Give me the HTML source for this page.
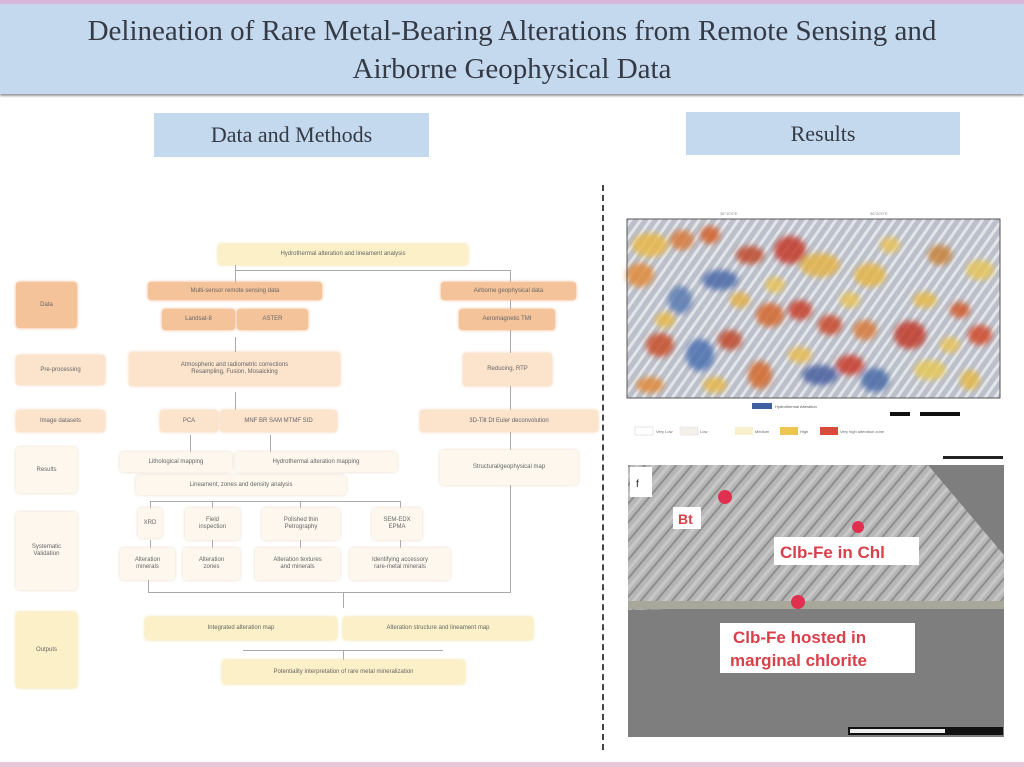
<!DOCTYPE html>
<html><head><meta charset="utf-8"><style>
body{margin:0;width:1024px;height:767px;background:#fff;position:relative;overflow:hidden;font-family:"Liberation Sans",sans-serif}
.a{position:absolute;box-sizing:border-box}
.hd{background:#c5d9ee;font-family:"Liberation Serif",serif;color:#343a46;text-align:center}
.b{position:absolute;box-sizing:border-box;font-size:6px;color:#666;display:flex;align-items:center;justify-content:center;text-align:center;border-radius:3px;line-height:7px}
.o{background:#f5c39a;box-shadow:0 0 3px #f0b080}
.lo{background:#fbe3cc;box-shadow:0 0 3px #f3cfae}
.y{background:#fbf0c8;box-shadow:0 0 3px #efdc9c}
.w{background:#fdf7ee;box-shadow:0 0 3px #e6d9c6}
.l{position:absolute;background:#aaa}
</style></head><body>
<div class="a" style="left:0;top:0;width:1024px;height:4px;background:#d8b8d8"></div>
<div class="a hd" style="left:0;top:4px;width:1024px;height:90px;font-size:29px;line-height:38px;padding-top:8px;box-shadow:0 2px 2px #999">Delineation of Rare Metal-Bearing Alterations from Remote Sensing and<br>Airborne Geophysical Data</div>
<div class="a hd" style="left:154px;top:113px;width:275px;height:44px;font-size:22px;line-height:44px">Data and Methods</div>
<div class="a hd" style="left:686px;top:112px;width:274px;height:43px;font-size:22px;line-height:43px">Results</div>
<div class="a" style="left:602px;top:185px;width:0;height:565px;border-left:2px dashed #444"></div>
<div class="a" style="left:0;top:762px;width:1024px;height:5px;background:#e8c8d8"></div>

<div class="b y" style="left:218px;top:244px;width:250px;height:21px">Hydrothermal alteration and lineament analysis</div>
<div class="l" style="left:235px;top:270px;width:275px;height:1px"></div>
<div class="l" style="left:235px;top:265px;width:1px;height:17px"></div>
<div class="l" style="left:510px;top:270px;width:1px;height:12px"></div>

<div class="b o" style="left:16px;top:282px;width:61px;height:46px">Data</div>
<div class="b o" style="left:148px;top:282px;width:174px;height:18px">Multi-sensor remote sensing data</div>
<div class="b o" style="left:162px;top:309px;width:73px;height:21px">Landsat-8</div>
<div class="b o" style="left:237px;top:309px;width:71px;height:21px">ASTER</div>
<div class="b o" style="left:441px;top:282px;width:135px;height:18px">Airborne geophysical data</div>
<div class="b o" style="left:459px;top:309px;width:96px;height:21px">Aeromagnetic TMI</div>

<div class="b lo" style="left:16px;top:355px;width:89px;height:30px">Pre-processing</div>
<div class="b lo" style="left:129px;top:352px;width:211px;height:34px">Atmospheric and radiometric corrections<br>Resampling, Fusion, Mosaicking</div>
<div class="b lo" style="left:463px;top:353px;width:89px;height:33px">Reducing, RTP</div>
<div class="l" style="left:510px;top:300px;width:1px;height:9px"></div>
<div class="l" style="left:510px;top:330px;width:1px;height:23px"></div>
<div class="l" style="left:235px;top:337px;width:1px;height:15px"></div>
<div class="l" style="left:235px;top:392px;width:1px;height:18px"></div>
<div class="l" style="left:510px;top:386px;width:1px;height:24px"></div>

<div class="b lo" style="left:16px;top:410px;width:89px;height:22px">Image datasets</div>
<div class="b lo" style="left:160px;top:410px;width:58px;height:22px">PCA</div>
<div class="b lo" style="left:220px;top:410px;width:117px;height:22px">MNF BR SAM MTMF SID</div>
<div class="b lo" style="left:420px;top:410px;width:178px;height:22px">3D-Tilt Dt Euler deconvolution</div>

<div class="b w" style="left:16px;top:447px;width:61px;height:46px">Results</div>
<div class="l" style="left:190px;top:435px;width:1px;height:17px"></div>
<div class="l" style="left:270px;top:435px;width:1px;height:17px"></div>
<div class="l" style="left:510px;top:432px;width:1px;height:18px"></div>
<div class="b w" style="left:120px;top:452px;width:112px;height:20px">Lithological mapping</div>
<div class="b w" style="left:235px;top:452px;width:162px;height:20px">Hydrothermal alteration mapping</div>
<div class="b w" style="left:440px;top:450px;width:138px;height:35px">Structural/geophysical map</div>
<div class="b w" style="left:136px;top:475px;width:210px;height:20px">Lineament, zones and density analysis</div>

<div class="b w" style="left:16px;top:512px;width:61px;height:78px">Systematic<br>Validation</div>
<div class="l" style="left:150px;top:501px;width:250px;height:1px"></div>
<div class="l" style="left:150px;top:501px;width:1px;height:7px"></div>
<div class="l" style="left:212px;top:501px;width:1px;height:7px"></div>
<div class="l" style="left:300px;top:501px;width:1px;height:7px"></div>
<div class="l" style="left:400px;top:501px;width:1px;height:7px"></div>
<div class="b w" style="left:138px;top:508px;width:24px;height:30px">XRD</div>
<div class="b w" style="left:185px;top:508px;width:55px;height:32px">Field<br>inspection</div>
<div class="b w" style="left:262px;top:508px;width:78px;height:32px">Polished thin<br>Petrography</div>
<div class="b w" style="left:372px;top:508px;width:50px;height:32px">SEM-EDX<br>EPMA</div>
<div class="l" style="left:150px;top:540px;width:1px;height:8px"></div>
<div class="l" style="left:212px;top:540px;width:1px;height:8px"></div>
<div class="l" style="left:300px;top:540px;width:1px;height:8px"></div>
<div class="l" style="left:400px;top:540px;width:1px;height:8px"></div>
<div class="b w" style="left:120px;top:548px;width:55px;height:32px">Alteration<br>minerals</div>
<div class="b w" style="left:183px;top:548px;width:57px;height:32px">Alteration<br>zones</div>
<div class="b w" style="left:255px;top:548px;width:85px;height:32px">Alteration textures<br>and minerals</div>
<div class="b w" style="left:350px;top:548px;width:100px;height:32px">Identifying accessory<br>rare-metal minerals</div>
<div class="l" style="left:148px;top:580px;width:1px;height:12px"></div>
<div class="l" style="left:510px;top:485px;width:1px;height:107px"></div>
<div class="l" style="left:148px;top:592px;width:363px;height:1px"></div>
<div class="l" style="left:343px;top:592px;width:1px;height:16px"></div>

<div class="b y" style="left:16px;top:612px;width:61px;height:76px">Outputs</div>
<div class="b y" style="left:145px;top:617px;width:192px;height:23px">Integrated alteration map</div>
<div class="b y" style="left:343px;top:617px;width:190px;height:23px">Alteration structure and lineament map</div>
<div class="l" style="left:243px;top:650px;width:200px;height:1px"></div>
<div class="l" style="left:343px;top:650px;width:1px;height:10px"></div>
<div class="b y" style="left:222px;top:660px;width:243px;height:24px">Potentiality interpretation of rare metal mineralization</div>

<svg class="a" style="left:620px;top:205px" width="400" height="260" viewBox="0 0 400 260">
<defs><filter id="bl"><feGaussianBlur stdDeviation="3"/></filter>
<pattern id="st" width="8" height="8" patternUnits="userSpaceOnUse" patternTransform="rotate(35)"><rect width="8" height="8" fill="#bcc0ca"/><rect width="3" height="8" fill="#e2e5ea"/></pattern></defs>
<text x="100" y="10" font-size="4" fill="#888">36°10'0"E</text><text x="250" y="10" font-size="4" fill="#888">36°20'0"E</text>
<rect x="7" y="14" width="373" height="179" fill="url(#st)"/>
<g filter="url(#bl)" opacity="0.85">
<ellipse cx="30" cy="40" rx="18" ry="12" fill="#e8b84a"/><ellipse cx="62" cy="35" rx="12" ry="10" fill="#d87a3a"/>
<ellipse cx="90" cy="30" rx="10" ry="9" fill="#d4602c"/><ellipse cx="130" cy="50" rx="14" ry="9" fill="#bf4a2c"/>
<ellipse cx="170" cy="45" rx="16" ry="14" fill="#c43a2a"/><ellipse cx="200" cy="60" rx="20" ry="12" fill="#e3b34a"/>
<ellipse cx="250" cy="70" rx="16" ry="12" fill="#e4b648"/><ellipse cx="320" cy="50" rx="12" ry="10" fill="#c8823a"/>
<ellipse cx="360" cy="65" rx="14" ry="10" fill="#e6c45a"/><ellipse cx="20" cy="70" rx="14" ry="12" fill="#e08a3a"/>
<ellipse cx="100" cy="75" rx="18" ry="10" fill="#4c6aa8"/><ellipse cx="60" cy="95" rx="12" ry="14" fill="#5a7ab0"/>
<ellipse cx="150" cy="110" rx="14" ry="12" fill="#d4682e"/><ellipse cx="180" cy="105" rx="12" ry="10" fill="#c8402a"/>
<ellipse cx="210" cy="120" rx="12" ry="10" fill="#c84a2c"/><ellipse cx="245" cy="125" rx="12" ry="10" fill="#d87a3a"/>
<ellipse cx="290" cy="130" rx="16" ry="14" fill="#c03a2a"/><ellipse cx="340" cy="105" rx="10" ry="8" fill="#d05a2c"/>
<ellipse cx="360" cy="130" rx="12" ry="10" fill="#d04a2c"/><ellipse cx="40" cy="140" rx="14" ry="12" fill="#c8502c"/>
<ellipse cx="80" cy="150" rx="14" ry="16" fill="#4c70b0"/><ellipse cx="110" cy="135" rx="12" ry="10" fill="#c04a2c"/>
<ellipse cx="140" cy="170" rx="12" ry="14" fill="#d46a2e"/><ellipse cx="30" cy="180" rx="14" ry="8" fill="#e08a3a"/>
<ellipse cx="200" cy="170" rx="18" ry="10" fill="#4860a0"/><ellipse cx="230" cy="160" rx="14" ry="10" fill="#c83a2a"/>
<ellipse cx="255" cy="175" rx="14" ry="12" fill="#4a6aa8"/><ellipse cx="310" cy="165" rx="16" ry="10" fill="#e6c85a"/>
<ellipse cx="350" cy="175" rx="10" ry="10" fill="#e4b84a"/><ellipse cx="180" cy="150" rx="12" ry="8" fill="#e8bd52"/>
<ellipse cx="120" cy="95" rx="10" ry="8" fill="#e3b048"/><ellipse cx="45" cy="115" rx="10" ry="8" fill="#e6b84c"/>
<ellipse cx="230" cy="95" rx="10" ry="8" fill="#e9c45a"/><ellipse cx="305" cy="95" rx="12" ry="8" fill="#e5ba4c"/>
<ellipse cx="95" cy="180" rx="12" ry="8" fill="#e6b84c"/><ellipse cx="330" cy="140" rx="10" ry="8" fill="#e8c25a"/>
<ellipse cx="270" cy="40" rx="10" ry="8" fill="#e8c25a"/><ellipse cx="155" cy="80" rx="10" ry="8" fill="#e8c25a"/>
</g>
<rect x="7" y="14" width="373" height="179" fill="none" stroke="#555" stroke-width="1"/>
<rect x="132" y="198" width="20" height="6" fill="#3e5fa0"/>
<text x="155" y="203" font-size="4" fill="#555">Hydrothermal Alteration</text>
<rect x="270" y="207" width="20" height="4" fill="#111"/><rect x="300" y="207" width="40" height="4" fill="#111"/>
<rect x="15" y="222" width="18" height="8" fill="#fff" stroke="#ccc" stroke-width="0.5"/><text x="36" y="228" font-size="4" fill="#666">Very Low</text>
<rect x="60" y="222" width="18" height="8" fill="#f3f0ea" stroke="#ddd" stroke-width="0.5"/><text x="80" y="228" font-size="4" fill="#666">Low</text>
<rect x="115" y="222" width="18" height="8" fill="#f8f0cc"/><text x="135" y="228" font-size="4" fill="#666">Medium</text>
<rect x="160" y="222" width="18" height="8" fill="#ecc650"/><text x="180" y="228" font-size="4" fill="#666">High</text>
<rect x="200" y="222" width="18" height="8" fill="#d84a3a"/><text x="220" y="228" font-size="4" fill="#666">Very high alteration zone</text>
<rect x="323" y="251" width="60" height="3" fill="#222"/>
</svg>

<svg class="a" style="left:628px;top:465px" width="376" height="272" viewBox="0 0 376 272">
<defs><pattern id="s2" width="12" height="12" patternUnits="userSpaceOnUse" patternTransform="rotate(40)"><rect width="12" height="12" fill="#b6b6b6"/><rect width="2" height="12" fill="#8e8e8e"/><rect x="6" width="3" height="12" fill="#c8c8c8"/></pattern></defs>
<rect width="376" height="272" fill="#7e7e7e"/>
<polygon points="0,0 300,0 376,90 376,142 200,140 0,145" fill="url(#s2)"/>
<rect x="0" y="136" width="376" height="8" fill="#a8a89a"/>
<rect x="2" y="2" width="22" height="30" fill="#fff"/><text x="8" y="22" font-size="10" fill="#222">f</text>
<circle cx="97" cy="32" r="7" fill="#e03050"/><circle cx="230" cy="62" r="6" fill="#e03050"/><circle cx="170" cy="137" r="7" fill="#e03050"/>
<rect x="45" y="42" width="28" height="22" fill="#fff"/><text x="50" y="59" font-size="14" font-weight="bold" fill="#d8404a">Bt</text>
<rect x="146" y="72" width="145" height="28" fill="#fff"/><text x="152" y="93" font-size="17" font-weight="bold" fill="#d8404a">Clb-Fe in Chl</text>
<rect x="92" y="158" width="195" height="50" fill="#fff"/><text x="105" y="178" font-size="17" font-weight="bold" fill="#d8404a">Clb-Fe hosted in</text><text x="102" y="201" font-size="17" font-weight="bold" fill="#d8404a">marginal chlorite</text>
<rect x="220" y="262" width="155" height="8" fill="#111"/><rect x="222" y="264" width="95" height="4" fill="#eee"/>
</svg>
</body></html>
